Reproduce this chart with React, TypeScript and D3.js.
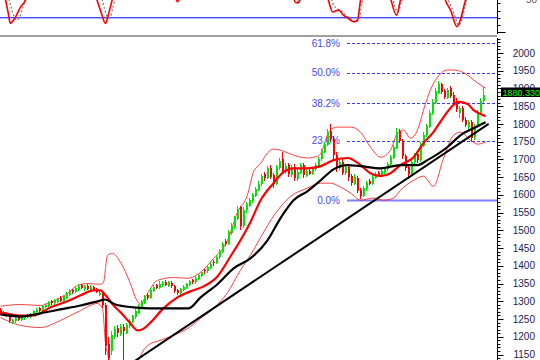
import React from "react";
import * as d3 from "d3";

const W = 540;
const H = 360;
const FONT = "Arial, 'Liberation Sans', Helvetica, sans-serif";

// price axis labels
const yTickLabels = [1150, 1200, 1250, 1300, 1350, 1400, 1450, 1500, 1550, 1600, 1650, 1700, 1750, 1800, 1850, 1900, 1950, 2000];
const lastPrice = 1880.33;

// candles: [open, high, low, close]
const ohlc: [number, number, number, number][] = [
  [1275,1280,1262,1268],[1270,1274,1258,1262],[1265,1270,1255,1258],[1260,1262,1240,1245],[1240,1250,1235,1246],
  [1244,1256,1240,1252],[1255,1258,1245,1248],[1248,1260,1245,1257],[1252,1262,1248,1258],[1262,1265,1252,1255],
  [1255,1268,1252,1265],[1262,1275,1258,1272],[1270,1280,1265,1276],[1280,1283,1270,1274],[1274,1290,1270,1286],
  [1284,1295,1280,1290],[1288,1300,1284,1296],[1300,1304,1290,1294],[1294,1306,1290,1303],[1298,1310,1294,1306],
  [1310,1314,1298,1302],[1302,1318,1298,1314],[1310,1326,1306,1322],[1318,1334,1315,1328],[1332,1336,1320,1325],
  [1325,1342,1322,1338],[1332,1348,1328,1344],[1345,1350,1334,1338],[1334,1346,1330,1342],[1344,1348,1332,1336],
  [1332,1345,1328,1340],[1340,1344,1328,1332],[1334,1338,1322,1326],[1318,1330,1314,1324],[1320,1324,1280,1290],
  [1290,1295,1150,1175],[1180,1200,1110,1140],[1160,1215,1150,1205],[1200,1230,1195,1222],[1225,1232,1200,1210],
  [1208,1235,1202,1228],[1228,1235,1130,1215],[1212,1240,1208,1234],[1230,1250,1225,1245],[1242,1262,1238,1258],
  [1255,1278,1250,1272],[1268,1292,1264,1286],[1282,1305,1278,1300],[1296,1318,1292,1314],[1318,1322,1305,1310],
  [1310,1338,1306,1332],[1330,1345,1325,1340],[1345,1350,1335,1338],[1338,1356,1334,1350],[1345,1358,1340,1352],
  [1354,1360,1342,1346],[1344,1358,1340,1354],[1352,1356,1338,1342],[1342,1346,1322,1328],[1332,1336,1318,1322],
  [1322,1338,1318,1334],[1332,1346,1328,1340],[1338,1352,1334,1348],[1346,1360,1342,1356],[1360,1364,1350,1354],
  [1354,1370,1350,1366],[1364,1378,1360,1374],[1372,1386,1368,1382],[1388,1392,1378,1384],[1384,1400,1380,1396],
  [1394,1412,1390,1406],[1412,1416,1400,1408],[1408,1430,1404,1426],[1424,1448,1420,1442],[1440,1468,1436,1462],
  [1470,1476,1455,1462],[1462,1500,1458,1494],[1492,1520,1488,1512],[1510,1540,1505,1534],[1532,1568,1528,1560],
  [1565,1570,1500,1512],[1512,1565,1508,1558],[1556,1580,1550,1574],[1570,1592,1565,1586],[1584,1606,1578,1600],
  [1598,1622,1594,1616],[1614,1640,1610,1632],[1630,1660,1625,1652],[1658,1664,1640,1648],[1648,1682,1644,1676],
  [1676,1684,1645,1650],[1655,1662,1620,1632],[1632,1685,1628,1678],[1676,1704,1670,1696],[1700,1720,1660,1668],
  [1666,1690,1660,1682],[1684,1690,1650,1658],[1656,1685,1650,1678],[1680,1688,1640,1648],[1646,1672,1640,1664],
  [1662,1690,1658,1684],[1684,1690,1648,1656],[1654,1672,1650,1666],[1668,1674,1655,1660],[1660,1678,1656,1674],
  [1672,1690,1668,1684],[1682,1708,1678,1702],[1700,1730,1696,1724],[1722,1750,1718,1744],[1742,1785,1738,1776],
  [1780,1800,1750,1758],[1758,1766,1700,1712],[1712,1720,1665,1676],[1676,1700,1670,1692],[1694,1700,1655,1662],
  [1662,1688,1656,1680],[1680,1686,1640,1650],[1652,1660,1625,1634],[1632,1660,1628,1650],[1648,1652,1605,1612],
  [1614,1618,1588,1598],[1598,1625,1594,1618],[1616,1640,1612,1634],[1640,1646,1628,1632],[1632,1655,1628,1650],
  [1648,1664,1644,1658],[1662,1668,1650,1654],[1654,1672,1650,1668],[1664,1680,1660,1674],[1672,1694,1668,1688],
  [1686,1712,1682,1706],[1704,1740,1700,1734],[1732,1788,1728,1778],[1780,1786,1745,1752],[1752,1758,1700,1710],
  [1710,1716,1668,1676],[1680,1686,1645,1658],[1656,1700,1652,1694],[1692,1718,1688,1712],[1716,1722,1690,1698],
  [1698,1748,1694,1740],[1738,1776,1734,1770],[1768,1800,1764,1794],[1792,1840,1788,1832],[1830,1870,1826,1862],
  [1860,1900,1855,1892],[1888,1920,1884,1912],[1912,1916,1884,1890],[1892,1898,1870,1876],[1874,1902,1870,1896],
  [1900,1906,1872,1880],[1882,1890,1850,1858],[1866,1872,1835,1842],[1830,1850,1818,1846],[1846,1850,1805,1812],
  [1812,1820,1790,1798],[1790,1812,1782,1806],[1806,1810,1748,1760],[1762,1800,1756,1794],[1792,1840,1788,1834],
  [1832,1872,1828,1866],[1864,1904,1860,1880.33],
];

// moving averages / bands: [bar index, value]
const maShort: [number, number][] = [
  [0,1269],[6.7,1260],[11,1260],[16.7,1283],[22.3,1300],[26.7,1317],[31,1331],[33.3,1331],[35,1317],[37.7,1288],
  [40,1269],[43.3,1238],[45.7,1218],[47.7,1223],[50,1240],[54.3,1280],[59,1311],[63.3,1328],[67.7,1342],[72.3,1370],
  [76.7,1427],[80,1472],[83.3,1523],[86.7,1585],[91,1633],[94.3,1664],[97.7,1675],[102.3,1675],[106.7,1681],[111,1698],
  [115.7,1704],[120,1684],[123.3,1661],[126.7,1653],[130,1661],[133.3,1684],[137.7,1706],[141,1746],[144.3,1777],
  [147.7,1819],[150,1845],[152.7,1862],[155.7,1856],[157.7,1839],[160,1828],[161.7,1822],
];
const maLong: [number, number][] = [
  [0,1263],[6.7,1257],[13.3,1266],[20,1277],[26.7,1288],[33.3,1302],[34.7,1305],[38.3,1291],[44.3,1283],[50,1280],
  [62.7,1280],[66.7,1311],[72.3,1348],[77.7,1393],[83.3,1421],[89,1472],[93.3,1534],[97.7,1585],[102.3,1610],
  [106.7,1641],[111,1672],[115.7,1684],[120,1681],[126.7,1675],[133.3,1684],[139,1684],[142.3,1698],[149,1735],
  [153.3,1768],[157.7,1788],[161.7,1805],
];
const bandUpper: [number, number][] = [
  [0,1286],[6.7,1291],[13.3,1288],[16.7,1297],[22.3,1322],[25.7,1345],[29,1350],[33.3,1348],[34.3,1353],[35.7,1430],
  [37.3,1435],[40,1410],[43.3,1350],[45.3,1305],[46.7,1292],[48.3,1312],[52.3,1359],[57.7,1367],[62.3,1365],[66.7,1382],
  [71,1421],[75.7,1472],[79,1551],[82.3,1599],[84.3,1664],[86.7,1689],[89,1718],[91,1729],[93.3,1726],[97.7,1712],
  [102.3,1704],[105.7,1709],[107.3,1726],[108.3,1754],[110,1783],[112.3,1791],[116.7,1791],[120,1777],[123.3,1735],
  [126.7,1706],[130,1726],[132.3,1774],[134.3,1783],[136.7,1760],[139,1783],[141,1839],[143.3,1896],[145.7,1932],
  [149,1952],[151,1952],[155.7,1938],[157.7,1924],[160,1910],[161.7,1901],
];
const bandLower: [number, number][] = [
  [0,1254],[6.7,1232],[13.3,1226],[20,1246],[26.7,1274],[32.3,1294],[34,1280],[35,1181],[36.7,1127],[38.3,1077],
  [41.7,1062],[45,1110],[46.7,1147],[49,1175],[53.3,1190],[57.7,1204],[62.3,1223],[66.7,1252],[71,1280],[75.7,1325],
  [80,1388],[83.3,1430],[86.7,1480],[91,1540],[96.7,1596],[102.3,1619],[106.7,1633],[110,1633],[113.3,1622],
  [116.7,1605],[120,1585],[124.3,1591],[127.7,1585],[131,1591],[133.3,1613],[137.7,1641],[141,1653],[144.3,1624],
  [147.7,1704],[151,1768],[153.3,1777],[156.7,1754],[159,1743],[161.7,1749],
];
const trendLine: [number, number][] = [[42, 1116], [162.7, 1800]];

// Fibonacci retracement levels
const fibLabels = ["0.0%", "23.6%", "38.2%", "50.0%", "61.8%"];
const fibValues = [1585, 1753, 1859, 1944, 2028];

// oscillator (top panel)
const oscMain: [number, number][] = [
  [0,62],[1,56],[1.7,44],[2.5,28],[3.3,12.3],[4,15],[5,21],[6.7,35],[8.3,44],[9,55],[15,80],[25,80],
  [31.5,55],[32.2,44],[33.5,28],[35,12.3],[36,25],[37.2,44],[38,55],[45,80],[55,75],
  [58,52],[59,42],[60,52],[65,78],[85,80],[95,62],
  [97.5,50],[98.3,41],[99.3,40.5],[100,47],[101,58],[105,75],
  [108.5,55],[109.3,44],[110.7,28],[112.7,30.5],[114.3,23.6],[116,19],[117.7,14.5],[119,16.8],[120,44],[120.5,55],[124,78],
  [129.5,55],[130.2,44],[132,23.6],[133.3,44],[134,55],[140,78],
  [147.5,55],[148.3,44],[150,30.5],[152.2,7.7],[153.5,20],[154.4,35],[155,44],[156,55],[161,80],
];
const oscSignal: [number, number][] = [
  [0,70],[2.5,52],[3.5,35],[4.5,22],[5.5,17],[6.5,22],[7.5,35],[8.5,48],[9.5,58],[16,80],[26,80],
  [32.5,58],[33.5,50],[34.5,35],[35.5,22],[36.5,20],[37.5,35],[38.5,50],[39.5,60],[46,80],[56,75],[62,70],[86,80],[96,62],
  [98.5,45],[99.5,42],[100.5,48],[102,60],[106,75],
  [110,50],[111,38],[112.5,32],[114,28],[115.5,22],[117,18],[118.3,14],[119.5,18],[120.5,40],[121.5,55],[125,78],
  [130.5,50],[131.5,35],[132.5,28],[133.5,40],[134.5,52],[141,78],
  [148.5,50],[150,38],[151.5,22],[152.7,10],[153.8,18],[154.8,35],[155.7,50],[157,62],[161,80],
];
const oscLevel = 20;
const oscTicks = [0, 10, 20, 30, 40];
const oscTopLabel = 50;

export default function App() {
  const x = d3.scaleLinear().domain([0, 161]).range([0.5, 483.5]);
  const y = d3.scaleLinear().domain([1150, 2000]).range([354.5, 53]);
  const yo = d3.scaleLinear().domain([0, 50]).range([32.4, -4.1]);

  const line = d3
    .line<[number, number]>()
    .x((d) => x(d[0]))
    .y((d) => y(d[1]))
    .curve(d3.curveMonotoneX);
  const straight = d3
    .line<[number, number]>()
    .x((d) => x(d[0]))
    .y((d) => y(d[1]));
  const oline = d3
    .line<[number, number]>()
    .x((d) => x(d[0]))
    .y((d) => yo(d[1]))
    .curve(d3.curveMonotoneX);

  const axisX = 497.5;
  const minorTicks = d3.range(1140, 2041, 10);
  const fibX0 = 347;
  const fibX1 = 497;

  return (
    <svg
      width={W}
      height={H}
      viewBox={`0 0 ${W} ${H}`}
      style={{ position: "absolute", left: 0, top: 0, background: "#fff", display: "block" }}
      fontFamily={FONT}
    >
      <defs>
        <clipPath id="topClip">
          <rect x={0} y={0} width={497} height={34} />
        </clipPath>
        <clipPath id="mainClip">
          <rect x={0} y={37.5} width={497} height={323} />
        </clipPath>
      </defs>
      <rect x={0} y={0} width={W} height={H} fill="#ffffff" />

      {/* top oscillator panel */}
      <g clipPath="url(#topClip)">
        <line x1={0} x2={497} y1={yo(oscLevel)} y2={yo(oscLevel)} stroke="#0000ff" strokeWidth={1} />
        <path d={oline(oscSignal) || ""} fill="none" stroke="#808080" strokeWidth={1.3} strokeDasharray="2,2" />
        <path d={oline(oscMain) || ""} fill="none" stroke="#ff0000" strokeWidth={1.6} />
      </g>
      <line x1={axisX} x2={axisX} y1={0} y2={34} stroke="#000" strokeWidth={1} />
      {oscTicks.map((t) => (
        <line
          key={"ot" + t}
          x1={axisX}
          x2={axisX + (t === 0 ? 8 : 3)}
          y1={Math.round(yo(t)) + 0.5}
          y2={Math.round(yo(t)) + 0.5}
          stroke="#000"
          strokeWidth={1}
        />
      ))}
      <text x={537} y={3} fontSize={10} fill="#555" textAnchor="end">
        {oscTopLabel}
      </text>

      {/* separator */}
      <line x1={0} x2={497} y1={36} y2={36} stroke="#a0a0a0" strokeWidth={2} />

      {/* main panel */}
      <g clipPath="url(#mainClip)">
        {fibValues.map((v, i) => (
          <line
            key={"fib" + i}
            x1={fibX0}
            x2={fibX1}
            y1={Math.round(y(v)) + 0.5}
            y2={Math.round(y(v)) + 0.5}
            stroke={i === 0 ? "#8080ff" : "#3c3cf0"}
            strokeWidth={i === 0 ? 2 : 1}
            strokeDasharray={i === 0 ? undefined : "3,2"}
          />
        ))}
        {fibValues.map((v, i) => (
          <text
            key={"fibl" + i}
            x={340}
            y={y(v)}
            dy="0.36em"
            fontSize={10}
            fill="#4848ee"
            textAnchor="end"
          >
            {fibLabels[i]}
          </text>
        ))}

        <path d={line(bandUpper) || ""} fill="none" stroke="#ff2020" strokeWidth={1} opacity={0.85} />
        <path d={line(bandLower) || ""} fill="none" stroke="#ff2020" strokeWidth={1} opacity={0.85} />

        <g shapeRendering="crispEdges">
          {ohlc.map((d, i) => {
            const [o, h, l, c] = d;
            const up = c >= o;
            const col = up ? "#00e400" : "#ff0000";
            const cx = x(i);
            const top = y(Math.max(o, c));
            const bh = Math.max(1, Math.abs(y(o) - y(c)));
            return (
              <g key={"c" + i}>
                <line x1={cx} x2={cx} y1={y(h)} y2={y(l)} stroke={col} strokeWidth={1} />
                <rect x={cx - 1} y={top} width={2} height={bh} fill={col} />
              </g>
            );
          })}
        </g>

        <path d={line(maShort) || ""} fill="none" stroke="#ff0000" strokeWidth={2.2} />
        <path d={line(maLong) || ""} fill="none" stroke="#000000" strokeWidth={2.2} />
        <path d={straight(trendLine) || ""} fill="none" stroke="#000000" strokeWidth={2} />
      </g>

      {/* price axis */}
      <line x1={axisX} x2={axisX} y1={38} y2={H} stroke="#000" strokeWidth={1} />
      {minorTicks.map((t) => {
        const yy = Math.round(y(t)) + 0.5;
        if (yy < 38) return null;
        const major = t % 50 === 0;
        return (
          <line key={"mt" + t} x1={axisX} x2={axisX + (major ? 6 : 3)} y1={yy} y2={yy} stroke="#000" strokeWidth={1} />
        );
      })}
      {yTickLabels.map((t) => (
        <text key={"yl" + t} x={535} y={y(t)} dy="0.36em" fontSize={10} fill="#222255" textAnchor="end">
          {t}
        </text>
      ))}

      {/* last price marker */}
      <rect x={501} y={87.5} width={39} height={9.5} fill="#000" />
      <text x={502.5} y={92.3} dy="0.36em" fontSize={9} fill="#00ff00">
        {lastPrice.toFixed(3)}
      </text>
    </svg>
  );
}
